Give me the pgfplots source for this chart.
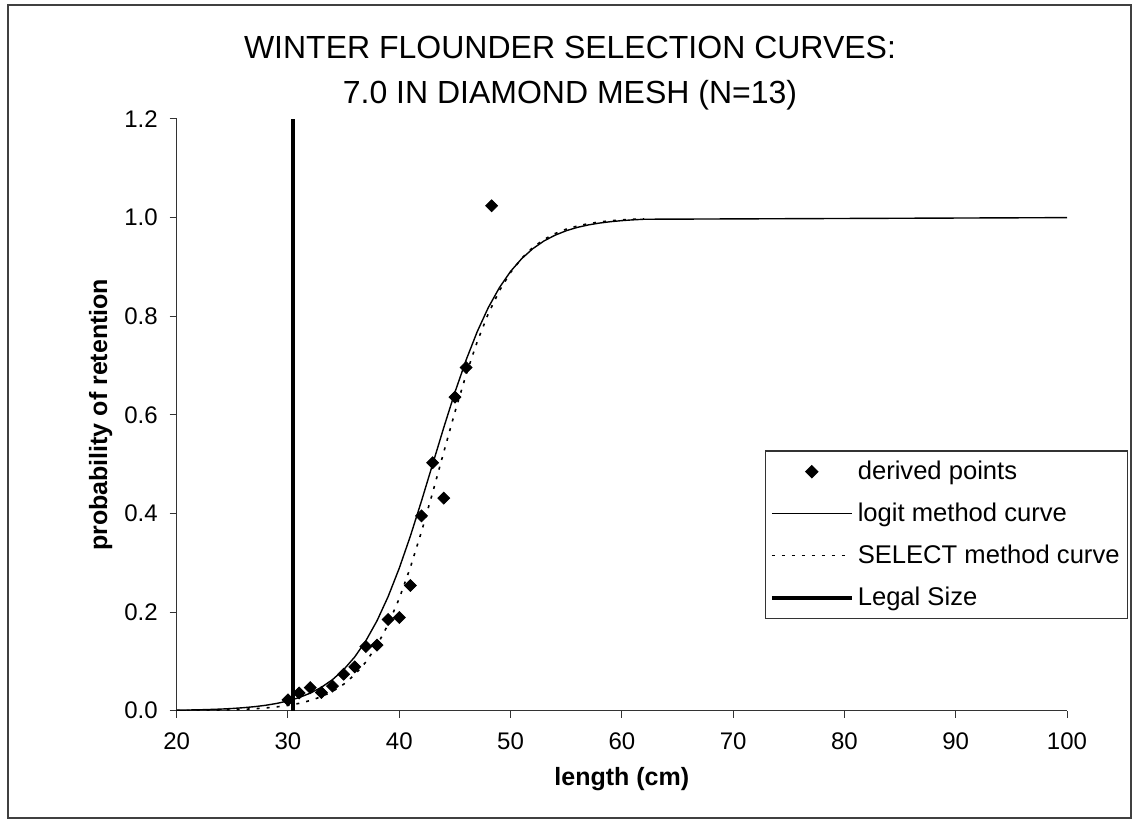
\documentclass[border=0pt]{standalone}
\usepackage{fontspec}
\setmainfont{Liberation Sans}
\usepackage{pgfplots}
\pgfplotsset{compat=1.18}
\begin{document}
\begin{tikzpicture}
\useasboundingbox (0,0) rectangle (569.5pt,412.5pt);
\draw[line width=0.6pt, black!75] (4pt,3.5pt) rectangle (565.5pt,410pt);
\node[align=center, font=\fontsize{16}{22.5}\selectfont] at (285pt,376pt) {WINTER FLOUNDER SELECTION CURVES:\\7.0 IN DIAMOND MESH (N=13)};
\begin{axis}[
  at={(88.35pt,57.15pt)}, anchor=south west,
  scale only axis, width=445.15pt, height=295.85pt,
  xmin=20, xmax=100, ymin=0, ymax=1.2,
  axis lines*=left,
  axis line style={line width=0.6pt, black!80},
  xtick={20,30,...,100},
  ytick={0,0.2,0.4,0.6,0.8,1.0,1.2},
  tick align=outside, major tick length=3.5pt,
  tick style={line width=0.5pt, black!80},
  /pgf/number format/assume math mode=true,
  yticklabel style={/pgf/number format/fixed, /pgf/number format/fixed zerofill, /pgf/number format/precision=1},
  ticklabel style={font=\fontsize{12}{14}\selectfont},
  xticklabel style={yshift=-4pt},
  yticklabel style={xshift=-2.5pt},
  xlabel={\textbf{length (cm)}},
  ylabel={\textbf{probability of retention}},
  label style={font=\fontsize{12.5}{14}\selectfont},
  xlabel style={at={(axis description cs:0.5,0)}, anchor=center, yshift=-34pt},
  ylabel style={at={(axis description cs:0,0.5)}, anchor=center, yshift=38pt},
  legend image code/.code={\path[draw=none,fill=none] (0pt,-3pt) rectangle (40pt,3pt); \draw[mark repeat=2,mark phase=2,#1] plot coordinates {(0pt,0pt) (20pt,0pt) (40pt,0pt)};},
  legend style={at={(axis description cs:0.661,0.44)}, anchor=north west,
    draw=black!80, line width=0.6pt, fill=white,
    font=\fontsize{12.8}{14}\selectfont,
    inner xsep=2pt, inner ysep=3pt, row sep=6.2pt,
    /tikz/every even column/.append style={column sep=0pt}},
  legend cell align=left,
]
\addplot[only marks, mark=square*, mark options={rotate=45}, mark size=2.1pt, black] coordinates {
(30,0.022) (31,0.036) (32,0.047) (33,0.037) (34,0.050) (35,0.074)
(36,0.089) (37,0.130) (38,0.133) (39,0.185) (40,0.189) (41,0.254)
(42,0.395) (43,0.503) (44,0.431) (45,0.636) (46,0.696) (48.3,1.024)
};
\addlegendentry{derived points}
\addplot[black, line width=0.7pt, mark=none] coordinates {
(20,0.0010) (21,0.0014) (22,0.0018) (23,0.0025) (24,0.0033) (25,0.0045)
(26,0.0061) (27,0.0082) (28,0.0110) (29,0.0148) (30,0.0198) (31,0.0266)
(32,0.0356) (33,0.0474) (34,0.0630) (35,0.0832) (36,0.1091) (37,0.1419)
(38,0.1824) (39,0.2315) (40,0.2891) (41,0.3543) (42,0.4256) (43,0.5000)
(44,0.5744) (45,0.6457) (46,0.7109) (47,0.7685) (48,0.8176) (49,0.8581)
(50,0.8909) (51,0.9168) (52,0.9370) (53,0.9526) (54,0.9644) (55,0.9734)
(56,0.9802) (57,0.9852) (58,0.9890) (59,0.9918) (60,0.9939) (61,0.9955)
(62,0.9967) (100,1.0)
};
\addlegendentry{logit method curve}
\addplot[black, line width=0.8pt, dash pattern=on 1.5pt off 3.5pt, mark=none] coordinates {
(20,0.0004) (21,0.0006) (22,0.0008) (23,0.0011) (24,0.0015) (25,0.0021)
(26,0.0029) (27,0.0040) (28,0.0056) (29,0.0078) (30,0.0108) (31,0.0149)
(32,0.0206) (33,0.0285) (34,0.0391) (35,0.0536) (36,0.0730) (37,0.0988)
(38,0.1323) (39,0.1750) (40,0.2277) (41,0.2909) (42,0.3633) (43,0.4425)
(44,0.5247) (45,0.6056) (46,0.6811) (47,0.7482) (48,0.8052) (49,0.8519)
(50,0.8888) (51,0.9175) (52,0.9393) (53,0.9556) (54,0.9677) (55,0.9766)
(56,0.9830) (57,0.9877) (58,0.9912) (59,0.9936) (60,0.9954) (61,0.9967)
(62,0.9976)
};
\addlegendentry{SELECT method curve}
\addplot[black, line width=2pt, mark=none] coordinates {(30.48,0) (30.48,1.2)};
\addlegendentry{Legal Size}
\end{axis}
\end{tikzpicture}
\end{document}
